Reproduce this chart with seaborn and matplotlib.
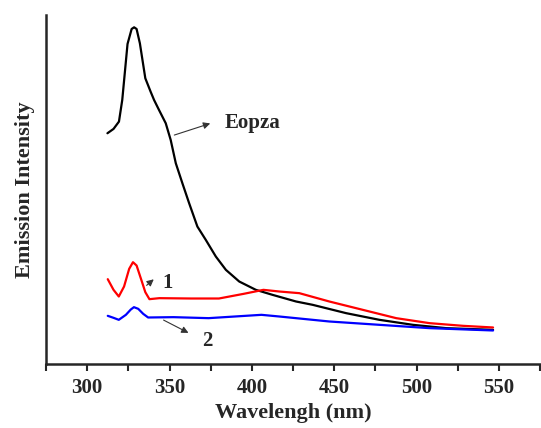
import matplotlib
matplotlib.use("Agg")
import matplotlib.pyplot as plt
import numpy as np
import seaborn as sns
import pandas as pd
from matplotlib.ticker import MultipleLocator

# emission spectra (arbitrary intensity units)
eopza_x = [312.3, 316.0, 319.3, 321.3, 324.5, 327.0, 328.5, 330.0, 332.0, 335.3,
           338.5, 340.6, 343.6, 347.7, 350.7, 353.8, 357.8, 361.9, 366.9, 372.0,
           378.1, 384.2, 392.3, 402.4, 412.5, 426.8, 436.9, 457.2, 477.4, 497.7,
           518.0, 546.4]
eopza_y = [692, 705, 727, 792, 960, 1005, 1010, 1005, 962, 857,
           817, 792, 762, 722, 672, 602, 542, 482, 412, 372,
           322, 282, 247, 222, 207, 187, 177, 152, 132, 117,
           107, 102]

c1_x = [312.5, 316.0, 319.2, 322.4, 325.5, 327.8, 330.0, 333.0, 335.3, 337.8,
        343.8, 363.0, 380.0, 395.0, 407.0, 416.6, 428.8, 447.0, 467.3, 487.6,
        507.8, 528.1, 546.4]
c1_y = [254, 222, 202, 232, 285, 305, 295, 250, 215, 194,
        197, 196, 196, 210, 222, 217, 212, 187, 162, 137,
        122, 114, 109]

c2_x = [312.5, 316.0, 319.2, 323.5, 326.5, 328.4, 331.0, 334.0, 337.0, 352.4,
        373.7, 405.8, 416.6, 447.0, 477.4, 507.8, 546.4]
c2_y = [144, 138, 132, 147, 163, 170, 165, 150, 139, 140,
        137, 147, 142, 127, 117, 107, 100]

def frame(x, y):
    return pd.DataFrame({"x": x, "y": y})

def main():
    sns.set_style("ticks")
    plt.rcParams['font.family'] = ['Liberation Serif', 'DejaVu Serif']
    plt.rcParams['font.weight'] = 'bold'

    fig = plt.figure(figsize=(5.41, 4.28), dpi=100)
    ax = fig.add_axes([0.085, 0.150, 0.915, 0.815])

    sns.lineplot(data=frame(eopza_x, eopza_y), x="x", y="y", color="black", lw=1.6, ax=ax)
    sns.lineplot(data=frame(c1_x, c1_y), x="x", y="y", color="red", lw=1.6, ax=ax)
    sns.lineplot(data=frame(c2_x, c2_y), x="x", y="y", color="blue", lw=1.6, ax=ax)

    arrow = dict(arrowstyle="-|>", color="#333333", lw=0.8, mutation_scale=10)
    ax.annotate("", xy=(376.3, 724), xytext=(351.3, 684), arrowprops=arrow)
    ax.text(383.3, 722, "Eopza", fontsize=15, fontweight="bold", va="center", ha="left")
    ax.annotate("", xy=(341.7, 259), xytext=(334.8, 230), arrowprops=arrow)
    ax.text(348.7, 244, "1", fontsize=15, fontweight="bold", va="center", ha="center")
    ax.annotate("", xy=(363.0, 89), xytext=(344.9, 135), arrowprops=arrow)
    ax.text(373.1, 67, "2", fontsize=15, fontweight="bold", va="center", ha="center")

    ax.set_xlim(275, 575.5)
    ax.set_ylim(0, 1047)
    ax.xaxis.set_major_locator(MultipleLocator(50))
    ax.xaxis.set_minor_locator(MultipleLocator(25))
    ax.set_yticks([])
    ax.tick_params(axis="x", which="both", direction="out", length=5, width=1.5,
                   labelsize=15, pad=5)
    for lab in ax.get_xticklabels():
        lab.set_fontweight("bold")

    ax.spines["top"].set_visible(False)
    ax.spines["right"].set_visible(False)
    ax.spines["left"].set_linewidth(1.8)
    ax.spines["bottom"].set_linewidth(1.8)

    ax.set_xlabel("Wavelengh (nm)", fontsize=16, fontweight="bold", labelpad=4)
    ax.set_ylabel("Emission Intensity", fontsize=16, fontweight="bold", labelpad=8)

    fig.savefig("out.png", dpi=100)

if __name__ == '__main__':
    main()
